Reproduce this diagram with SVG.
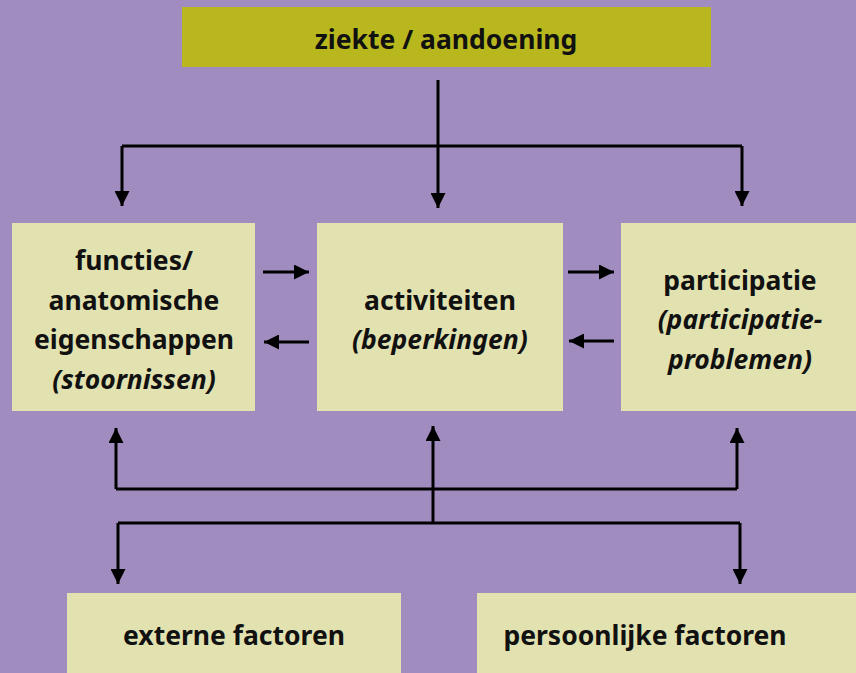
<svg xmlns="http://www.w3.org/2000/svg" width="856" height="673" viewBox="0 0 856 673">
<style>
.bg{fill:#A08CBE}
.top{fill:#B8B81E}
.box{fill:#E2E2B0}
text{font-family:"Noto Sans","Open Sans",sans-serif;font-weight:bold;font-size:26.5px;fill:#111;text-anchor:middle}
.it{font-style:italic}
.ln{stroke:#000;stroke-width:3;fill:none}
</style>
<defs>
<marker id="ah" viewBox="0 0 10 10" refX="10" refY="5" markerWidth="5" markerHeight="5" markerUnits="strokeWidth" orient="auto">
<path d="M0,0 L10,5 L0,10 Z" fill="#000"/>
</marker>
</defs>
<rect class="bg" x="0" y="0" width="856" height="673"/>
<g id="ziekte">
<rect class="top" x="182" y="7" width="529" height="60"/>
<text x="446" y="49">ziekte / aandoening</text>
</g>
<g id="functies">
<rect class="box" x="12" y="223" width="243" height="188"/>
<text x="134" y="270">functies/</text>
<text x="134" y="310">anatomische</text>
<text x="134" y="349">eigenschappen</text>
<text x="134" y="389" class="it">(stoornissen)</text>
</g>
<g id="activiteiten">
<rect class="box" x="317" y="223" width="246" height="188"/>
<text x="440" y="310">activiteiten</text>
<text x="440" y="349" class="it">(beperkingen)</text>
</g>
<g id="participatie">
<rect class="box" x="621" y="223" width="235" height="188"/>
<text x="740" y="290">participatie</text>
<text x="740" y="329" class="it">(participatie-</text>
<text x="740" y="369" class="it">problemen)</text>
</g>
<g id="externe">
<rect class="box" x="67" y="593" width="334" height="80"/>
<text x="234" y="645">externe factoren</text>
</g>
<g id="persoonlijk">
<rect class="box" x="477" y="593" width="379" height="80"/>
<text x="645" y="645">persoonlijke factoren</text>
</g>
<g id="connectors">
<path class="ln" d="M438,80 V146"/>
<path class="ln" d="M122,146 H742"/>
<path class="ln" d="M122,146 V206" marker-end="url(#ah)"/>
<path class="ln" d="M438,146 V208" marker-end="url(#ah)"/>
<path class="ln" d="M742,146 V206" marker-end="url(#ah)"/>
<path class="ln" d="M263,272 H309" marker-end="url(#ah)"/>
<path class="ln" d="M309,342 H264" marker-end="url(#ah)"/>
<path class="ln" d="M568,272 H614" marker-end="url(#ah)"/>
<path class="ln" d="M614,341 H569" marker-end="url(#ah)"/>
<path class="ln" d="M116,489 V428" marker-end="url(#ah)"/>
<path class="ln" d="M737,489 V428" marker-end="url(#ah)"/>
<path class="ln" d="M116,489 H737"/>
<path class="ln" d="M433,523 V426" marker-end="url(#ah)"/>
<path class="ln" d="M118,523 H740"/>
<path class="ln" d="M118,523 V584" marker-end="url(#ah)"/>
<path class="ln" d="M740,523 V584" marker-end="url(#ah)"/>
</g>
</svg>
